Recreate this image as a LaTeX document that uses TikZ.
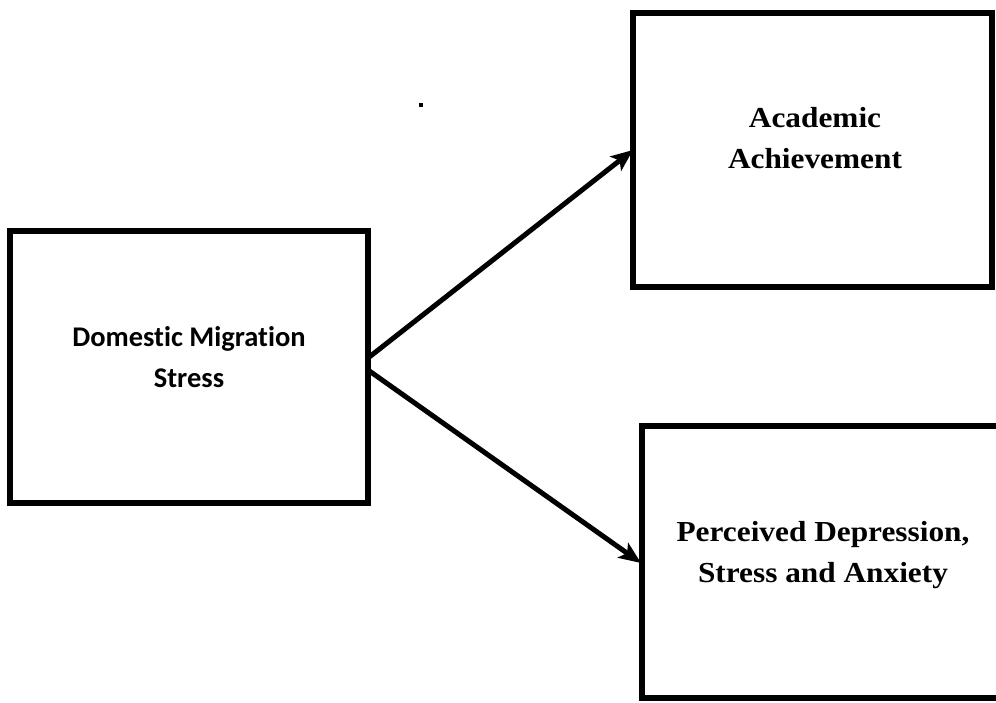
\documentclass[tikz,border=0pt]{standalone}
\usepackage{fontspec}
\setmainfont{Liberation Serif}
\newfontfamily\calfont[Ligatures={NoCommon}]{Carlito}
\usetikzlibrary{arrows.meta}
\begin{document}
\begin{tikzpicture}[x=1pt,y=-1pt,
  box/.style={draw=black,line width=5.5pt,fill=none},
  lbl/.style={align=center,text=black},
  conn/.style={line width=5pt,-{Stealth[length=22pt,width=18pt,inset=5pt]}}]
\useasboundingbox (0,0) rectangle (996,702);
\path[box] (10,231) rectangle (368,503);
\path[box] (633,13) rectangle (992,287);
\path[box] (642,426) rectangle (1000,698);
\node[lbl,font=\calfont\bfseries\fontsize{28.5}{41}\selectfont] (src) at (189,357) {Domestic Migration\\Stress};
\node[lbl,font=\bfseries\fontsize{29}{41}\selectfont] (aa) at (815,138) {\scalebox{1.08}[1]{Academic}\\\scalebox{1.08}[1]{Achievement}};
\node[lbl,font=\bfseries\fontsize{29}{41}\selectfont] (pd) at (823,555) {\scalebox{1.08}[1]{Perceived Depression,}\\\scalebox{1.08}[1]{Stress and Anxiety}};
\coordinate (s1) at (368,358);
\coordinate (s2) at (368,370);
\coordinate (t1) at (633,150);
\coordinate (t2) at (641,563);
\draw[conn] (s1) -- (t1);
\draw[conn] (s2) -- (t2);
\fill (419,103) rectangle (423,107);
\end{tikzpicture}
\end{document}
